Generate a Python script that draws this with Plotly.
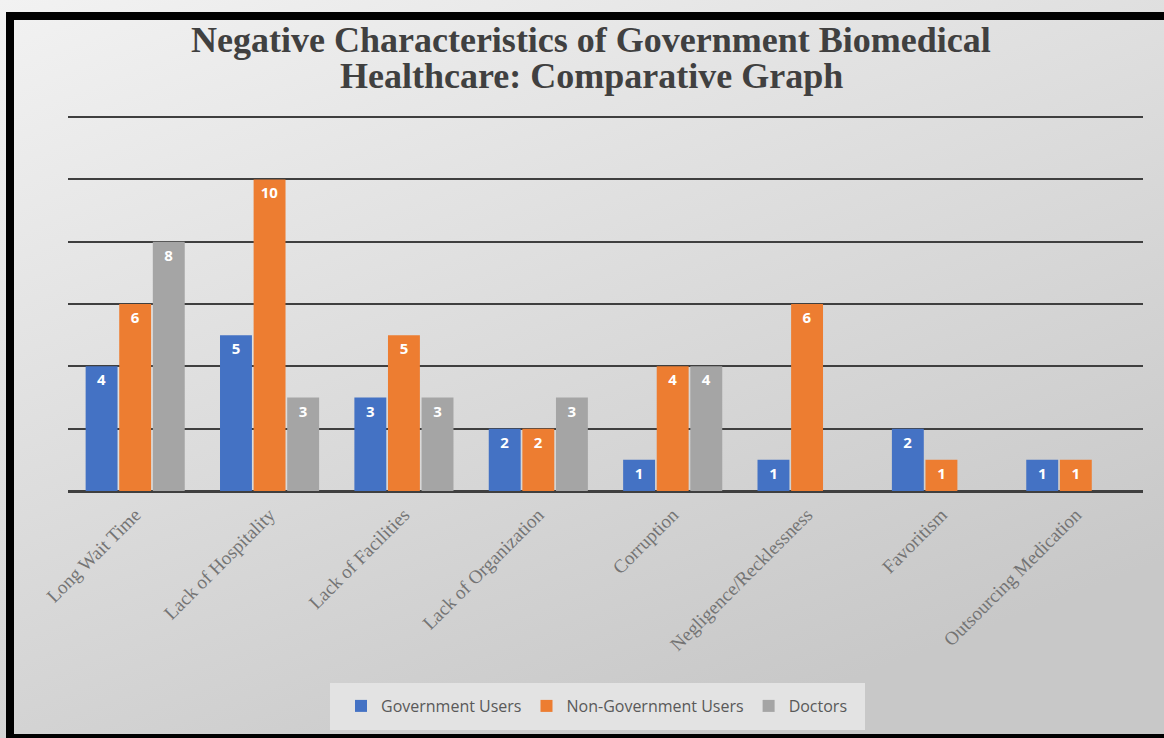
import base64
import plotly.graph_objects as go

categories = ["Long Wait Time", "Lack of Hospitality", "Lack of Facilities",
              "Lack of Organization", "Corruption", "Negligence/Recklessness",
              "Favoritism", "Outsourcing Medication"]
gov_users = [4, 5, 3, 2, 1, 1, 2, 1]
nongov_users = [6, 10, 5, 2, 4, 6, 1, 1]
doctors = [8, 3, 3, 3, 4, 0, 0, 0]
series_names = ["Government Users", "Non-Government Users", "Doctors"]
series_colors = ["#4472C4", "#ED7D31", "#A5A5A5"]
title_lines = ["Negative Characteristics of Government Biomedical",
               "Healthcare: Comparative Graph"]

W, H = 1164, 738
ML, MR, MT, MB = 68, 21, 114, 247
PW = W - ML - MR
PH = H - MT - MB

def px_x(p):
    return (p - ML) / PW

def px_y(p):
    return (H - MB - p) / PH

svg = ('<svg xmlns="http://www.w3.org/2000/svg" width="1164" height="738">'
       '<defs><linearGradient id="g" x1="0" y1="0" x2="0.6" y2="1">'
       '<stop offset="0" stop-color="#f2f2f2"/><stop offset="1" stop-color="#c8c8c8"/>'
       '</linearGradient></defs><rect width="1164" height="738" fill="url(#g)"/></svg>')
src = "data:image/svg+xml;base64," + base64.b64encode(svg.encode()).decode()

fig = go.Figure()
for name, vals, col in zip(series_names, [gov_users, nongov_users, doctors], series_colors):
    fig.add_trace(go.Bar(
        x=categories, y=vals, name=name, marker_color=col, marker_line_width=0,
        text=[str(v) if v else "" for v in vals],
        textposition="inside", insidetextanchor="end", textangle=0,
        textfont=dict(color="white", size=15, family="Open Sans", weight="bold"),
        constraintext="none",
    ))

annotations = []
for i, line in enumerate(title_lines):
    annotations.append(dict(
        text=line, xref="paper", yref="paper", x=px_x(591), y=px_y(40 + 36 * i),
        xanchor="center", yanchor="middle", showarrow=False,
        font=dict(family="Liberation Serif", size=36, color="#404040", weight="bold"),
    ))

fig.update_layout(
    width=W, height=H,
    margin=dict(l=ML, r=MR, t=MT, b=MB),
    paper_bgcolor="#dcdcdc", plot_bgcolor="rgba(0,0,0,0)",
    barmode="group", bargap=0.25, bargroupgap=0.05,
    annotations=annotations,
    xaxis=dict(tickangle=-45, showgrid=False, zeroline=False, showline=False,
               ticks="", ticklabelstandoff=8,
               tickfont=dict(family="Liberation Serif", size=19, color="#747474")),
    yaxis=dict(range=[0, 12.1], dtick=2, showticklabels=False, showgrid=True,
               gridcolor="#3f3f3f", gridwidth=2, zeroline=True, zerolinecolor="#3f3f3f",
               zerolinewidth=3, showline=False),
    legend=dict(orientation="h", x=px_x(597), xanchor="center", y=px_y(706), yanchor="middle",
                bgcolor="rgba(0,0,0,0)", font=dict(family="Open Sans", size=16, color="#595959"),
                itemwidth=30, traceorder="normal"),
    images=[dict(source=src, xref="paper", yref="paper", x=px_x(0), y=px_y(0),
                 sizex=W / PW, sizey=H / PH, xanchor="left", yanchor="top",
                 sizing="stretch", layer="below")],
    shapes=[
        dict(type="rect", xref="paper", yref="paper",
             x0=px_x(330), x1=px_x(865), y0=px_y(683), y1=px_y(730),
             line=dict(width=0), fillcolor="#e3e3e3", layer="below"),
        dict(type="rect", xref="paper", yref="paper",
             x0=px_x(10), x1=px_x(1200), y0=px_y(16), y1=px_y(738),
             line=dict(color="black", width=8), fillcolor="rgba(0,0,0,0)", layer="above"),
    ],
)

fig.write_html("out.html")
